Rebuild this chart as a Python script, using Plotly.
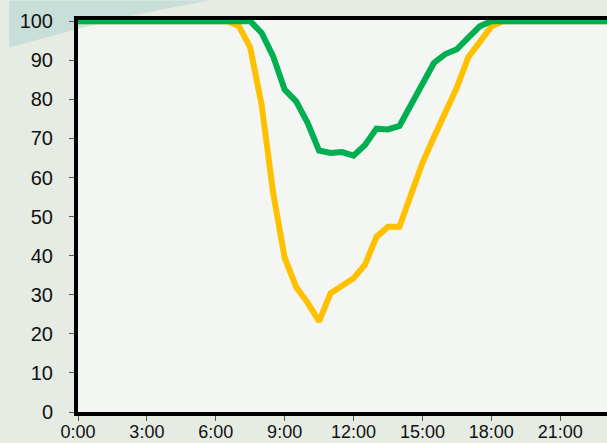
import plotly.graph_objects as go

# Time of day in hours (half-hour samples)
hours = [0.0, 0.5, 1.0, 1.5, 2.0, 2.5, 3.0, 3.5, 4.0, 4.5, 5.0, 5.5,
         6.0, 6.5, 7.0, 7.5, 8.0, 8.5, 9.0, 9.5, 10.0, 10.5, 11.0, 11.5,
         12.0, 12.5, 13.0, 13.5, 14.0, 14.5, 15.0, 15.5, 16.0, 16.5, 17.0, 17.5,
         18.0, 18.5, 19.0, 19.5, 20.0, 20.5, 21.0, 21.5, 22.0, 22.5, 23.0, 23.5, 24.0]

yellow_series = [100, 100, 100, 100, 100, 100, 100, 100, 100, 100, 100, 100,
                 100, 100, 98.8, 93.3, 78.5, 56.0, 39.5, 32.0, 28.0, 23.2, 30.4, 32.3,
                 34.2, 37.7, 44.8, 47.4, 47.4, 55.6, 63.7, 70.3, 77.0, 83.0, 90.8, 94.6,
                 98.6, 100, 100, 100, 100, 100, 100, 100, 100, 100, 100, 100, 100]

green_series = [100, 100, 100, 100, 100, 100, 100, 100, 100, 100, 100, 100,
                100, 100, 100, 100, 97.0, 91.0, 82.5, 79.5, 74.0, 66.9, 66.3, 66.5,
                65.6, 68.3, 72.5, 72.3, 73.2, 78.5, 84.0, 89.3, 91.6, 92.8, 95.8, 98.7,
                100, 100, 100, 100, 100, 100, 100, 100, 100, 100, 100, 100, 100]

x_tickvals = [0, 3, 6, 9, 12, 15, 18, 21]
x_ticktext = ["0:00", "3:00", "6:00", "9:00", "12:00", "15:00", "18:00", "21:00"]
y_tickvals = [0, 10, 20, 30, 40, 50, 60, 70, 80, 90, 100]

fig = go.Figure()
fig.add_trace(go.Scatter(x=hours, y=yellow_series, mode="lines",
                         line=dict(color="#FFC000", width=6), showlegend=False))
fig.add_trace(go.Scatter(x=hours, y=green_series, mode="lines",
                         line=dict(color="#00B050", width=6), showlegend=False))

# soft decorative background tint (top-left)
fig.add_shape(type="path", xref="paper", yref="paper", layer="below",
              path="M -0.13 1.05 L 0.25 1.05 C 0.12 1.02 0.03 0.99 -0.13 0.93 Z",
              fillcolor="rgba(140,200,195,0.35)", line=dict(width=0))

fig.update_layout(
    template="none",
    width=607, height=443,
    margin=dict(l=78, r=0, t=20, b=31, autoexpand=False),
    paper_bgcolor="#e6ebe4",
    plot_bgcolor="#f4f6f3",
    font=dict(family="Liberation Sans, Arial, sans-serif", size=20, color="#111111"),
    xaxis=dict(range=[0, 23.04], tickvals=x_tickvals, ticktext=x_ticktext,
               automargin=False, tickfont=dict(size=18),
               showgrid=False, zeroline=False, showline=True, linecolor="black",
               linewidth=4, mirror=True, ticks="outside", ticklen=5, tickwidth=1,
               tickcolor="#555555", layer="below traces", ticklabelstandoff=-5),
    yaxis=dict(range=[0, 100.3], tickvals=y_tickvals,
               automargin=False,
               showgrid=False, zeroline=False, showline=True, linecolor="black",
               linewidth=4, ticks="outside", ticklen=5, tickwidth=1,
               tickcolor="#555555", layer="below traces", ticklabelstandoff=12),
)

fig.write_html("out.html",
               config={"displayModeBar": False},
               post_script="document.body.style.margin='0';document.body.style.overflow='hidden';")
